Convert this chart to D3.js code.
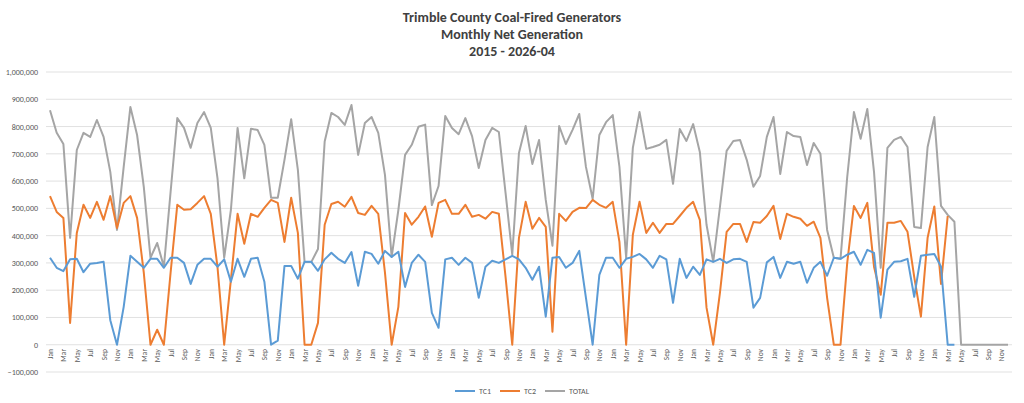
<html>
<head>
<meta charset="utf-8"/>
<script src="https://d3js.org/d3.v7.min.js"></script>
</head>
<body style="margin:0;background:#fff">
<div id="v"></div>
<script type="text/javascript">
var monthNames = ["Jan","Feb","Mar","Apr","May","Jun","Jul","Aug","Sep","Oct","Nov","Dec"];
var years = [2015,2016,2017,2018,2019,2020,2021,2022,2023,2024,2025,2026];
var yTicks = [-100000,0,100000,200000,300000,400000,500000,600000,700000,800000,900000,1000000];
var titleLines = ["Trimble County Coal-Fired Generators","Monthly Net Generation","2015 - 2026-04"];

// thousands of MWh, Jan 2015 .. Dec 2026
var tc1 = [
  319,282,270,313,315,266,297,300,304,90,0,139,
  326,304,282,315,315,282,319,319,300,223,293,315,
  315,286,313,231,315,249,315,319,231,0,15,289,
  289,242,304,304,271,313,337,315,300,340,216,341,
  333,297,344,322,341,212,300,330,304,117,62,313,
  319,293,319,300,172,286,308,300,313,326,313,282,
  238,286,103,319,322,282,300,344,172,0,256,319,
  319,282,315,322,333,313,282,326,313,154,315,245,
  286,256,313,304,315,300,313,315,304,136,172,302,
  322,245,304,297,304,227,282,304,253,319,315,330,
  341,293,348,337,99,275,304,306,315,176,326,330,
  333,286,0,0,null,null,null,null,null,null,null,null];
var tc2 = [
  545,487,465,80,410,513,465,524,458,545,428,520,
  545,465,264,0,55,0,264,513,495,497,520,545,
  480,285,0,238,480,370,480,469,502,531,520,377,
  539,410,0,0,80,440,516,524,506,542,483,476,
  509,480,264,0,139,483,440,469,507,396,520,531,
  480,480,513,469,476,462,487,480,249,0,392,524,
  425,465,432,48,480,454,487,502,501,531,513,502,
  524,377,0,403,524,410,447,410,443,443,472,502,
  524,458,136,0,190,414,443,443,377,450,447,472,
  509,388,480,469,462,436,451,392,172,0,0,300,
  509,465,520,286,183,447,447,454,414,249,103,392,
  507,223,472,null,null,null,null,null,null,null,null,null];
var total = [
  860,777,736,392,714,777,762,824,762,634,421,652,
  872,769,579,319,373,286,560,831,795,722,813,853,
  795,611,319,494,795,610,792,787,733,539,539,678,
  827,641,303,303,351,745,850,835,806,879,696,813,
  835,777,623,322,494,696,733,799,807,512,582,839,
  795,772,831,765,648,751,795,780,557,330,703,802,
  663,751,531,363,802,736,788,846,652,535,769,816,
  842,652,319,722,853,718,725,733,751,590,791,747,
  809,707,440,304,505,711,747,751,678,579,619,762,
  835,626,780,765,762,659,740,700,421,319,315,615,
  853,755,864,634,282,722,751,762,725,432,428,725,
  835,509,476,451,0,0,0,0,0,0,0,0];

var months = [];
years.forEach(function(y) { monthNames.forEach(function(m) { months.push(y + "-" + m); }); });

var series = [
  {name: "TC1", values: tc1, color: "#5b9bd5"},
  {name: "TC2", values: tc2, color: "#ed7d31"},
  {name: "TOTAL", values: total, color: "#a5a5a5"}
];
var drawOrder = [series[2], series[1], series[0]];

var width = 1024, height = 403;
var svg = d3.select("#v").append("svg").attr("width", width).attr("height", height)
  .style("font-family", "Calibri, Carlito, 'Liberation Sans', Arial, sans-serif");

var x = d3.scalePoint().domain(months).range([50, 1008]);
var y = d3.scaleLinear().domain([-100000, 1000000]).range([372, 72]);

svg.selectAll(".title").data(titleLines).enter().append("text")
  .attr("x", 512).attr("y", function(d, i) { return 22 + i * 17; })
  .attr("text-anchor", "middle").attr("font-weight", "bold").attr("font-size", 14)
  .attr("fill", "#404040").text(function(d) { return d; });

svg.selectAll(".grid").data(yTicks).enter().append("line")
  .attr("x1", 46).attr("x2", 1012)
  .attr("y1", function(d) { return y(d); }).attr("y2", function(d) { return y(d); })
  .attr("stroke", "#d9d9d9").attr("stroke-width", 0.8);

svg.selectAll(".ylab").data(yTicks).enter().append("text")
  .attr("x", 38).attr("y", function(d) { return y(d) + 3; })
  .attr("text-anchor", "end").attr("font-size", 8).attr("fill", "#595959")
  .text(function(d) { return d3.format(",")(d); });

svg.selectAll(".xlab").data(months.filter(function(d, i) { return i % 2 === 0; })).enter().append("text")
  .attr("transform", function(d) { return "translate(" + (x(d) + 3) + ",349) rotate(-90)"; })
  .attr("text-anchor", "end").attr("font-size", 7.5).attr("fill", "#595959")
  .text(function(d) { return d.split("-")[1]; });

var line = d3.line()
  .defined(function(d) { return d != null; })
  .x(function(d, i) { return x(months[i]); })
  .y(function(d) { return y(d * 1000); });

svg.selectAll(".series").data(drawOrder).enter().append("path")
  .attr("d", function(d) { return line(d.values); })
  .attr("fill", "none").attr("stroke", function(d) { return d.color; })
  .attr("stroke-width", 2).attr("stroke-linejoin", "round");

var leg = svg.selectAll(".leg").data(series).enter().append("g")
  .attr("transform", function(d, i) { return "translate(" + [455, 500, 545][i] + ",391)"; });
leg.append("line").attr("x1", 0).attr("x2", 20).attr("stroke", function(d) { return d.color; }).attr("stroke-width", 2);
leg.append("text").attr("x", 24).attr("y", 3).attr("font-size", 8).attr("fill", "#595959").text(function(d) { return d.name; });
</script>
</body>
</html>
